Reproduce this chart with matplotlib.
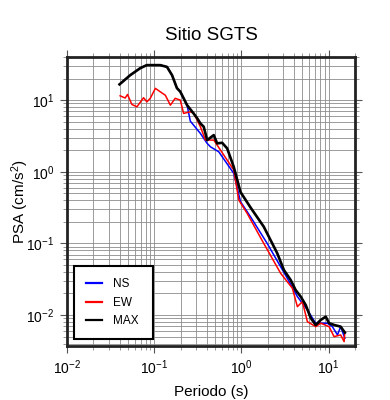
import matplotlib
matplotlib.use("Agg")
import matplotlib.pyplot as plt
from matplotlib.ticker import LogLocator, NullFormatter

plt.rcParams['font.family'] = ['Liberation Sans', 'DejaVu Sans']
plt.rcParams['mathtext.fontset'] = 'custom'
plt.rcParams['mathtext.rm'] = 'Liberation Sans'
plt.rcParams['mathtext.it'] = 'Liberation Sans:italic'
plt.rcParams['mathtext.bf'] = 'Liberation Sans:bold'

title = "Sitio SGTS"
xlabel = "Periodo (s)"
ylabel = "PSA (cm/s$^2$)"

# MAX series
max_T = [0.040, 0.053, 0.069, 0.082, 0.117, 0.140, 0.160, 0.182, 0.199, 0.238,
         0.283, 0.310, 0.338, 0.369, 0.404, 0.481, 0.526, 0.600, 0.685, 0.815,
         0.853, 0.975, 1.27, 1.80, 2.57, 3.06, 3.66, 4.17, 4.77, 5.45, 6.21,
         7.09, 8.10, 9.24, 10.1, 11.5, 13.7, 15.3]
max_psa = [16.6, 22.3, 27.9, 30.8, 30.8, 29.1, 22.3, 14.7, 13.1, 8.5,
           6.5, 5.6, 4.73, 4.25, 2.77, 3.25, 2.49, 2.54, 2.12, 1.17,
           0.95, 0.52, 0.317, 0.171, 0.0728, 0.0426, 0.0309, 0.0224, 0.0181, 0.0138, 0.00912,
           0.00728, 0.00855, 0.00950, 0.00769, 0.00728, 0.00689, 0.00569]

# NS series
ns_T = [0.040, 0.053, 0.069, 0.082, 0.117, 0.140, 0.160, 0.182, 0.199, 0.238,
        0.259, 0.338, 0.404, 0.441, 0.549, 0.815, 0.975, 1.27, 1.97, 3.35,
        4.37, 5.69, 7.09, 9.66, 11.0, 12.6, 13.7, 15.3]
ns_psa = [16.6, 22.3, 27.9, 30.8, 30.8, 29.1, 22.3, 14.7, 13.1, 8.5,
          5.09, 3.43, 2.49, 2.23, 1.90, 0.95, 0.382, 0.235, 0.100, 0.0326,
          0.0181, 0.0118, 0.00769, 0.00769, 0.00689, 0.00528, 0.00689, 0.00474]

# EW series
ew_T = [0.0406, 0.0464, 0.0494, 0.0554, 0.0633, 0.0754, 0.0824, 0.0900, 0.103, 0.117,
        0.134, 0.153, 0.174, 0.199, 0.217, 0.259, 0.283, 0.338, 0.386, 0.481,
        0.574, 0.815, 0.931, 1.16, 1.80, 2.81, 3.83, 4.37, 4.99, 5.69,
        7.09, 8.10, 10.1, 11.5, 13.7, 15.0, 15.3]
ew_psa = [11.5, 10.7, 12.0, 8.71, 8.07, 10.8, 9.47, 10.6, 14.6, 13.1,
          11.7, 8.51, 10.6, 10.0, 6.53, 6.87, 6.59, 4.25, 2.77, 2.77,
          2.01, 1.06, 0.403, 0.263, 0.100, 0.0383, 0.0237, 0.0131, 0.0154, 0.00809,
          0.00689, 0.00769, 0.00689, 0.00500, 0.00528, 0.00426, 0.00586]

fig = plt.figure(figsize=(3.9, 4.0), dpi=100)
ax = fig.add_axes([67/390, 1-346/400, 288/390, 289/400])

ax.plot(ns_T, ns_psa, color='#0000ff', lw=1.1, label='NS', zorder=3)
ax.plot(ew_T, ew_psa, color='#ff0000', lw=1.1, label='EW', zorder=3)
ax.plot(max_T, max_psa, color='black', lw=1.9, label='MAX', zorder=4)

ax.set_xscale('log')
ax.set_yscale('log')
ax.set_xlim(0.01, 20)
ax.set_ylim(0.0037, 40)

for axis in (ax.xaxis, ax.yaxis):
    axis.set_major_locator(LogLocator(base=10, numticks=10))
    axis.set_minor_locator(LogLocator(base=10, subs=range(2, 10), numticks=20))
    axis.set_minor_formatter(NullFormatter())

ax.grid(True, which='both', color='#8c8c8c', lw=0.6, zorder=1)
ax.set_axisbelow(True)
ax.tick_params(which='major', direction='out', length=5, width=0.8, color='#555555',
               labelsize=10, top=True, right=True, pad=4)
ax.tick_params(which='minor', direction='out', length=3, width=0.6, color='#888888',
               top=True, right=True)
for s in ax.spines.values():
    s.set_linewidth(2.0)
    s.set_color('#222222')

ax.set_title(title, fontsize=13.5, pad=12)
ax.set_xlabel(xlabel, fontsize=11, labelpad=6)
ax.set_ylabel(ylabel, fontsize=11, va='center')
ax.yaxis.set_label_coords(-0.163, 0.5)

leg = ax.legend(loc='lower left', bbox_to_anchor=(0.024, 0.024, 0.274, 0.25),
                mode='expand', fontsize=8.5, frameon=True, fancybox=False,
                borderpad=1.0, labelspacing=0.55, handlelength=1.4,
                handletextpad=0.9, borderaxespad=0)
leg.get_frame().set_edgecolor('black')
leg.get_frame().set_linewidth(1.5)
leg.get_frame().set_facecolor('white')
leg.get_frame().set_alpha(1)
for line in leg.get_lines():
    line.set_linewidth(1.6)

fig.savefig('out.png', dpi=100)
